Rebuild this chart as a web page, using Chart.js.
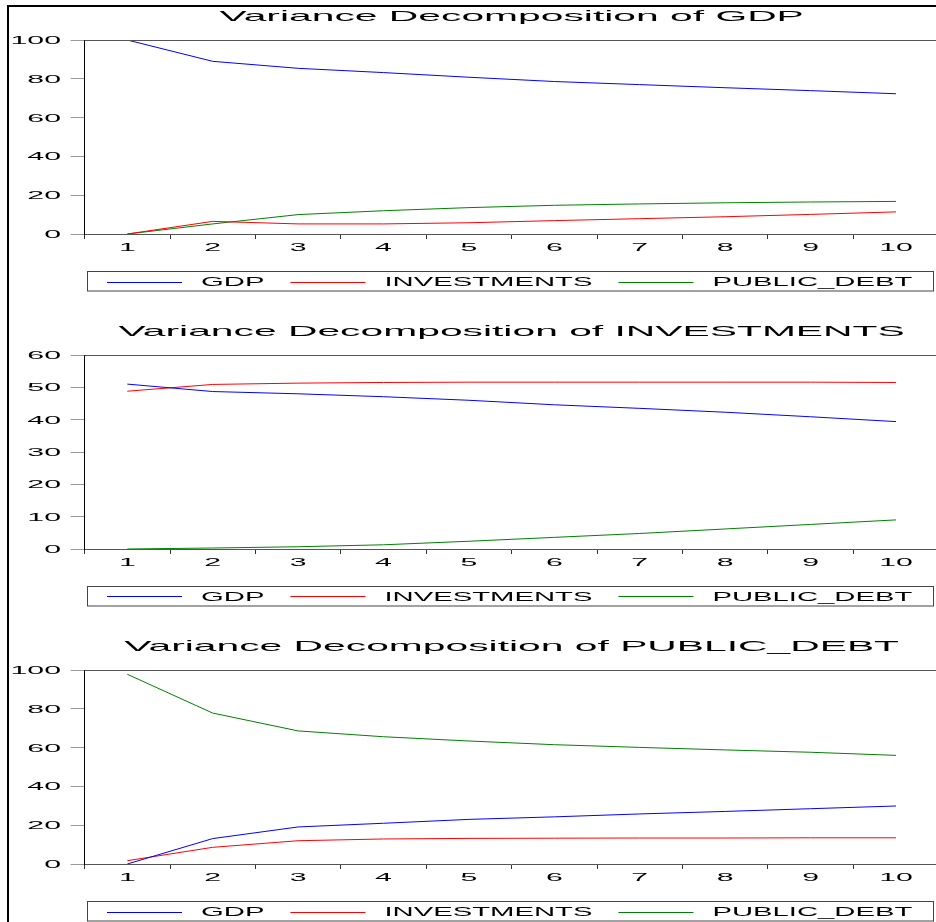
<!DOCTYPE html>
<html lang="en">
<head>
<meta charset="UTF-8">
<title>Variance Decomposition</title>
<script src="https://cdn.jsdelivr.net/npm/chart.js@4.4.1/dist/chart.umd.min.js"></script>
<style>
  body { margin:0; background:#fff; width:936px; height:922px; overflow:hidden; position:relative; }
  .panel { position:absolute; left:0; width:945px; height:315px; }
  .frame { position:absolute; left:7px; top:5px; width:960px; height:940px; border-left:2px solid #000; border-top:2px solid #000; pointer-events:none; }
</style>
</head>
<body>
<div class="panel" style="top:0"><canvas id="c1" width="945" height="315"></canvas></div>
<div class="panel" style="top:315px"><canvas id="c2" width="945" height="315"></canvas></div>
<div class="panel" style="top:630px"><canvas id="c3" width="945" height="315"></canvas></div>
<div class="frame"></div>

<script>
  const periods = ['1', '2', '3', '4', '5', '6', '7', '8', '9', '10'];
  const seriesNames = ['GDP', 'INVESTMENTS', 'PUBLIC_DEBT'];
  const colors = ['#0000ff', '#ff0000', '#008000'];

  const ticks100 = [0, 20, 40, 60, 80, 100];
  const ticks60 = [0, 10, 20, 30, 40, 50, 60];

  // Variance Decomposition of GDP
  const gdpByGdp = [100, 89.0, 85.4, 83.2, 80.8, 78.6, 77.0, 75.4, 73.9, 72.3];
  const gdpByInv = [0, 6.5, 5.2, 5.2, 5.8, 6.9, 7.9, 8.9, 10.1, 11.4];
  const gdpByDebt = [0, 5.2, 10.0, 12.0, 13.6, 14.8, 15.5, 16.1, 16.5, 16.8];

  // Variance Decomposition of INVESTMENTS
  const invByGdp = [51.0, 48.7, 48.0, 47.1, 46.0, 44.6, 43.5, 42.3, 40.9, 39.4];
  const invByInv = [48.8, 50.9, 51.3, 51.5, 51.6, 51.6, 51.6, 51.6, 51.6, 51.5];
  const invByDebt = [0, 0.3, 0.7, 1.3, 2.4, 3.6, 4.8, 6.2, 7.6, 9.0];

  // Variance Decomposition of PUBLIC_DEBT
  const debtByGdp = [0, 13.1, 19.1, 21.0, 23.0, 24.3, 25.8, 27.1, 28.5, 29.9];
  const debtByInv = [1.7, 8.6, 12.0, 12.9, 13.2, 13.3, 13.4, 13.4, 13.5, 13.5];
  const debtByDebt = [97.8, 77.8, 68.6, 65.6, 63.4, 61.5, 60.1, 58.8, 57.6, 56.0];

  const FONT = '"Liberation Sans", Arial, sans-serif';

  // eviews stretches its text sideways, so draw it scaled
  function wideText(ctx, txt, x, y, size, sx, align) {
    ctx.save();
    ctx.font = size + 'px ' + FONT;
    ctx.fillStyle = '#000';
    ctx.textBaseline = 'alphabetic';
    ctx.textAlign = align;
    ctx.translate(x, y);
    ctx.scale(sx, 1);
    ctx.fillText(txt, 0, 0);
    ctx.restore();
  }

  const eviewsLook = {
    id: 'eviewsLook',
    afterDraw(chart, args, opts) {
      const ctx = chart.ctx, area = chart.chartArea;
      const xs = chart.scales.x, ys = chart.scales.y;

      // top edge of the plot frame
      ctx.save();
      ctx.fillStyle = '#555';
      ctx.fillRect(area.left, Math.round(area.top), chart.width - area.left, 1);
      ctx.restore();

      wideText(ctx, opts.title, (area.left + area.right) / 2, 21, 15, 2.72, 'center');

      ys.ticks.forEach((t, i) => {
        wideText(ctx, String(t.value), 61, ys.getPixelForTick(i) + 4, 11, 2.75, 'right');
      });
      xs.ticks.forEach((t, i) => {
        wideText(ctx, xs.getLabelForValue(t.value), xs.getPixelForTick(i), 251, 11, 2.75, 'center');
      });

      // legend box
      ctx.save();
      ctx.strokeStyle = '#444';
      ctx.lineWidth = 1;
      ctx.strokeRect(87.5, 271.5, 846, 19.5);
      ctx.restore();

      let x = 107;
      chart.data.datasets.forEach((ds, i) => {
        const meta = chart.getDatasetMeta(i);
        ctx.save();
        ctx.fillStyle = meta.dataset.options.borderColor;
        ctx.fillRect(x, opts.legendY, 75, 1);
        ctx.restore();
        x += 75 + 19;
        ctx.save();
        ctx.font = '13px ' + FONT;
        const w = ctx.measureText(ds.label).width * 2.25;
        ctx.restore();
        wideText(ctx, ds.label, x, 285.5, 13, 2.25, 'left');
        x += w + 26;
      });
    }
  };

  function makeChart(id, title, yTicks, series, legendY) {
    return new Chart(document.getElementById(id), {
      type: 'line',
      data: {
        labels: periods,
        datasets: seriesNames.map((n, i) => ({
          label: n,
          data: series[i],
          borderColor: colors[i],
          borderWidth: 1,
          pointRadius: 0,
          tension: 0,
          fill: false
        }))
      },
      options: {
        responsive: false,
        animation: false,
        devicePixelRatio: 1,
        layout: { padding: { left: 70.6, right: 6.3, top: 40, bottom: 76 } },
        plugins: {
          legend: { display: false },
          title: { display: false },
          tooltip: { enabled: false },
          eviewsLook: { title: title, legendY: legendY }
        },
        scales: {
          x: {
            offset: true,
            grid: { offset: true, drawOnChartArea: false, tickLength: 5, color: '#333' },
            border: { color: '#555' },
            ticks: { display: false }
          },
          y: {
            min: yTicks[0],
            max: yTicks[yTicks.length - 1],
            afterBuildTicks: s => { s.ticks = yTicks.map(v => ({ value: v })); },
            grid: { drawOnChartArea: false, tickLength: 14, color: '#999' },
            border: { color: '#000' },
            ticks: { display: false }
          }
        }
      },
      plugins: [eviewsLook]
    });
  }

  makeChart('c1', 'Variance Decomposition of GDP', ticks100, [gdpByGdp, gdpByInv, gdpByDebt], 282);
  makeChart('c2', 'Variance Decomposition of INVESTMENTS', ticks60, [invByGdp, invByInv, invByDebt], 281);
  makeChart('c3', 'Variance Decomposition of PUBLIC_DEBT', ticks100, [debtByGdp, debtByInv, debtByDebt], 282);
</script>
</body>
</html>
